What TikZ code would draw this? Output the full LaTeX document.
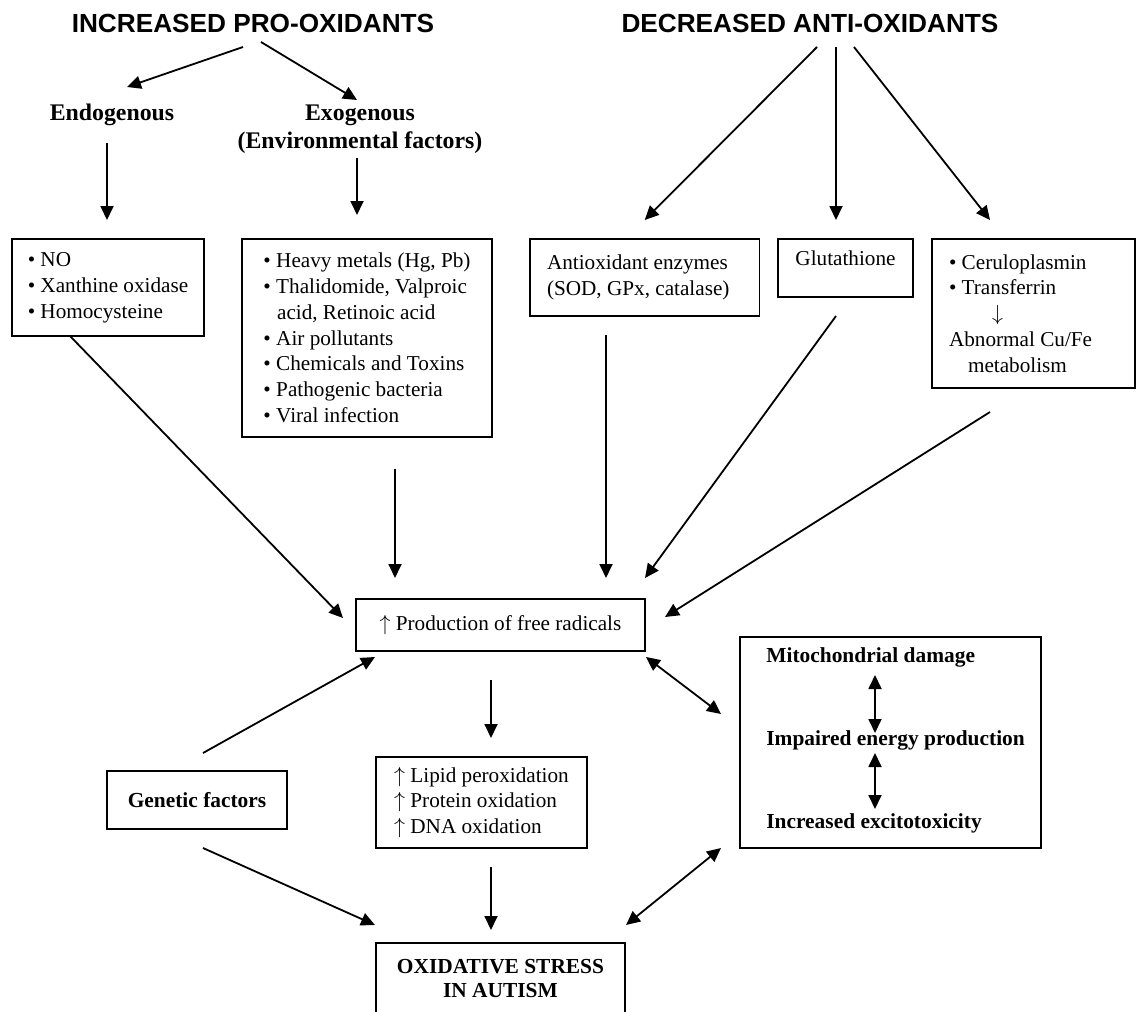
\documentclass[tikz,border=0pt]{standalone}
\usepackage{fontspec}
\setmainfont{Liberation Serif}
\newfontfamily\headfont{Liberation Sans}
\usepackage{tikz}
\usetikzlibrary{arrows.meta,positioning,calc}

\begin{document}
\begin{tikzpicture}[x = .5pt, y = -.5pt,
  >={Triangle[length=7pt,width=6.5pt]},
  conn/.style = {line width=.9pt},
  box/.style = {draw, line width=.7pt, align=flush left, inner sep=0pt,
    font=\fontsize{10.6}{12.9}\selectfont},
  bbox/.style = {box, align=center, font=\fontsize{10.7}{12}\selectfont\bfseries},
  head/.style = {inner sep=0pt, font=\headfont\fontsize{13.1}{15}\selectfont\bfseries},
  sub/.style = {inner sep=0pt, align=center, font=\fontsize{11.9}{14}\selectfont\bfseries},
  mtext/.style = {anchor=west, inner sep=0pt, font=\fontsize{10.7}{12}\selectfont\bfseries}]
\useasboundingbox (0,0) rectangle (1136,1012);

% sources
\node[head] (hpro) at (253,23) {INCREASED PRO-OXIDANTS};
\node[head] (hanti) at (810,23) {DECREASED ANTI-OXIDANTS};
\node[sub] (endo) at (112,115) {Endogenous};
\node[sub] (exo) at (360,129) {Exogenous\\(Environmental factors)};
\node[box, minimum width=96pt, minimum height=48.5pt] (no) at (108,287.5)
  {\textbullet{} NO\\\textbullet{} Xanthine oxidase\\\textbullet{} Homocysteine};
\node[box, minimum width=125pt, minimum height=99pt] (heavy) at (367,338)
  {\textbullet{} Heavy metals (Hg, Pb)\\\textbullet{} Thalidomide, Valproic\\
   \hspace*{6.8pt}acid, Retinoic acid\\\textbullet{} Air pollutants\\
   \textbullet{} Chemicals and Toxins\\\textbullet{} Pathogenic bacteria\\
   \textbullet{} Viral infection};
\node[box, text width=97.75pt, inner xsep=8.5pt, minimum height=38.5pt] (anti) at (644.75,277.5)
  {Antioxidant enzymes\\(SOD, GPx, catalase)};
\node[box, align=center, minimum width=67.5pt, minimum height=29pt, text depth=10pt] (glut) at (845.5,268)
  {Glutathione};
\node[box, text width=84.5pt, inner xsep=8.5pt, minimum height=74.5pt] (cerulo) at (1033.5,313.5)
  {\textbullet{} Ceruloplasmin\\\textbullet{} Transferrin\\\hspace*{21.5pt}$\downarrow$\\
   Abnormal Cu/Fe\\\hspace*{9.5pt}metabolism};

% middle and bottom
\node[box, minimum width=144.5pt, minimum height=26pt] (prod) at (500.5,625)
  {$\uparrow$ Production of free radicals};
\node[bbox, minimum width=90pt, minimum height=29pt] (gen) at (197,800) {Genetic factors};
\node[box, minimum width=105.5pt, minimum height=45.5pt] (lipid) at (481.5,802.5)
  {$\uparrow$ Lipid peroxidation\\$\uparrow$ Protein oxidation\\$\uparrow$ DNA oxidation};
\node[bbox, minimum width=124.5pt, minimum height=35.5pt] (oxid) at (500.5,978.5)
  {OXIDATIVE STRESS\\IN AUTISM};
\node[draw, line width=.7pt, minimum width=150.5pt, minimum height=105.5pt] (mito) at (890.5,742.5) {};
\node[mtext] (mdmg) at (766,657) {Mitochondrial damage};
\node[mtext] (energy) at (766,740) {Impaired energy production};
\node[mtext] (excit) at (766,823) {Increased excitotoxicity};

% connectors
\draw[->, conn] ($(hpro)+(-10,24)$) -- ($(endo)+(15,-28)$);
\draw[->, conn] ($(hpro)+(8,19)$) -- ($(exo)+(-3,-29)$);
\draw[->, conn] ($(endo)+(-5,28)$) -- ($(no)+(-1,-67.5)$);
\draw[->, conn] ($(exo)+(-3,29)$) -- ($(heavy)+(-10,-123)$);
\draw[->, conn] ($(hanti)+(7,24)$) -- ($(anti)+(0,-57.5)$);
\draw[->, conn] ($(hanti)+(26,24)$) -- ($(glut)+(-9.5,-48)$);
\draw[->, conn] ($(hanti)+(44,24)$) -- ($(cerulo)+(-43.5,-93.5)$);
\draw[->, conn] ($(no)+(-38,48.5)$) -- ($(prod)+(-157.5,-7)$);
\draw[->, conn] ($(heavy)+(28,131)$) -- ($(prod)+(-105.5,-47)$);
\draw[->, conn] ($(anti)+(-38.75,57.5)$) -- ($(prod)+(105.5,-47)$);
\draw[->, conn] ($(glut)+(-9.5,48)$) -- ($(prod)+(144.5,-47)$);
\draw[->, conn] ($(cerulo)+(-43.5,98.5)$) -- ($(prod)+(164.5,-8)$);
\draw[->, conn] ($(gen)+(6,-47)$) -- ($(prod)+(-125.5,32)$);
\draw[->, conn] ($(prod)+(-9.5,55)$) -- ($(lipid)+(9.5,-64.5)$);
\draw[<->, conn] ($(prod)+(145.5,32)$) -- ($(mito)+(-169.5,-28.5)$);
\draw[->, conn] ($(gen)+(6,48)$) -- ($(oxid)+(-125.5,-53.5)$);
\draw[->, conn] ($(lipid)+(9.5,64.5)$) -- ($(oxid)+(-9.5,-48.5)$);
\draw[<->, conn] ($(oxid)+(125.5,-53.5)$) -- ($(mito)+(-169.5,105.5)$);
\draw[<->, conn] ($(mdmg.west)+(109,18)$) -- ($(energy.west)+(109,-7)$);
\draw[<->, conn] ($(energy.west)+(109,13)$) -- ($(excit.west)+(109,-14)$);
\end{tikzpicture}
\end{document}
